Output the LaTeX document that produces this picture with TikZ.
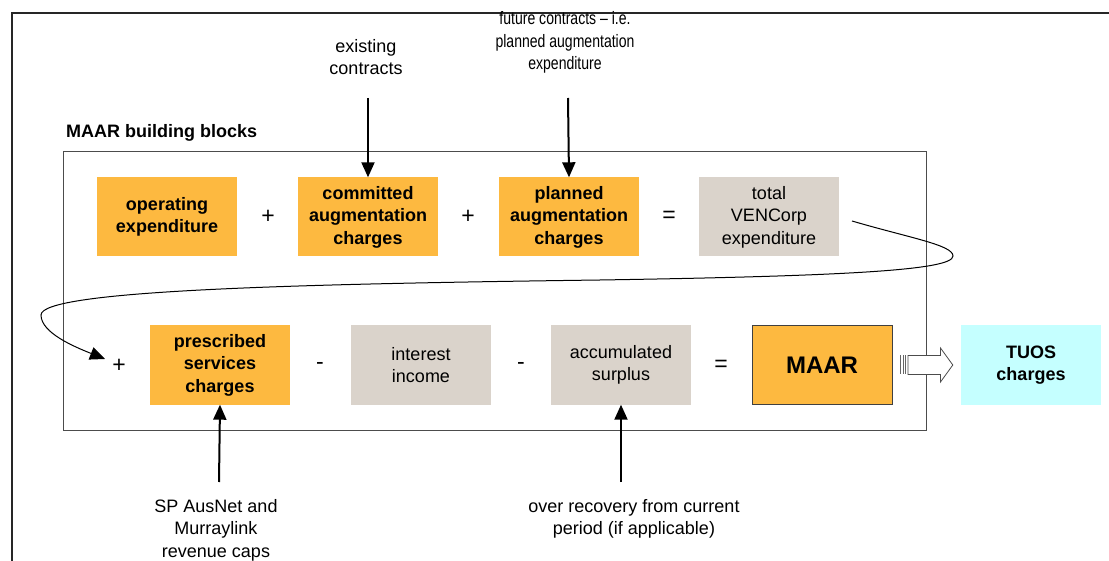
\documentclass[tikz,border=0pt]{standalone}
\usepackage{fontspec}
\setmainfont{Liberation Sans}
\usetikzlibrary{arrows.meta,calc}
\definecolor{blockorange}{RGB}{253,185,64}
\definecolor{blockgrey}{RGB}{218,211,203}
\definecolor{blockcyan}{RGB}{197,255,255}
\tikzset{
  base/.style={minimum width=140pt, minimum height=79pt, inner sep=0pt, align=center,
               font=\fontsize{18}{22.5}\selectfont},
  costbox/.style={base, fill=blockorange, font=\bfseries\fontsize{18}{22.5}\selectfont},
  greybox/.style={base, fill=blockgrey},
  op/.style={font=\fontsize{23}{24}\selectfont, inner sep=0pt},
  note/.style={align=center, font=\fontsize{18}{22.5}\selectfont, inner sep=0pt},
  feed/.style={line width=2pt, -{Triangle[length=15pt,width=13pt]}},
}
\begin{document}
\begin{tikzpicture}[x=1pt,y=-1pt]
\useasboundingbox (0,0) rectangle (1109,561);
% page frame
\draw[line width=2pt, black!85] (12,561) -- (12,13) -- (1109,13);

% building-block frame and title
\draw[line width=1pt, black!70] (63,152) rectangle (926,430);
\node[anchor=west, inner sep=0pt, font=\bfseries\fontsize{18}{22}\selectfont] (title) at (66,133) {MAAR building blocks};

% first row
\node[costbox] (opex) at (167,217) {operating\\expenditure};
\node[op] (p1) at (268,217) {+};
\node[costbox] (committed) at (368,217) {committed\\augmentation\\charges};
\node[op] (p2) at (468,217) {+};
\node[costbox] (planned) at (569,217) {planned\\augmentation\\charges};
\node[op] (e1) at (669,217) {=};
\node[greybox] (total) at (769,217) {total\\VENCorp\\expenditure};

% second row
\node[op] (p3) at (119,366) {+};
\node[costbox] (prescribed) at (220,365) {prescribed\\services\\charges};
\node[op] (m1) at (320,366) {-};
\node[greybox] (interest) at (421,365) {interest\\income};
\node[op] (m2) at (521,366) {-};
\node[greybox] (surplus) at (621,365) {accumulated\\surplus};
\node[op] (e2) at (721,366) {=};
\node[costbox, draw=black!75, line width=1pt, font=\bfseries\fontsize{24}{26}\selectfont] (maar) at (822,365) {MAAR};
\node[base, fill=blockcyan, font=\bfseries\fontsize{18}{22.5}\selectfont] (tuos) at (1031,365) {TUOS\\charges};

% external inputs
\node[note] (existing) at (366,57) {existing\\contracts};
\node[note] (future) at (565,43) {\scalebox{0.78}[1]{\begin{tabular}{@{}c@{}}future contracts – i.e.\\planned augmentation\\expenditure\end{tabular}}};
\node[note] (caps) at (216,530) {SP AusNet and\\Murraylink\\revenue caps};
\node[note] (recovery) at (634,519) {over recovery from current\\period (if applicable)};

\coordinate (existingfoot) at (368,98);
\coordinate (futurefoot) at (568,98);
\coordinate (capstop) at (219,482);
\coordinate (recoverytop) at (621,482);
\draw[feed] (existingfoot) -- (committed.north);
\draw[feed] (futurefoot) -- (planned.north);
\draw[feed] (capstop) -- (prescribed.south);
\draw[feed] (recoverytop) -- (surplus.south);

% carry-over from the first row to the second
\coordinate (loopstart) at (852,221);
\coordinate (loopend) at (105,359);
\draw[line width=1pt, -{Triangle[length=15pt,width=13pt]}]
  (loopstart) .. controls (910,238) and (953,245) .. (953,256)
  .. controls (953,270) and (850,276) .. (600,280)
  .. controls (300,284) and (41,290) .. (41,315)
  .. controls (41,333) and (75,347) .. (loopend);

% hollow arrow from MAAR to TUOS charges
\coordinate (ha) at ($(maar.east)+(8,0)$);
\foreach \dx in {0,2.5,5}
  \draw[black!60, line width=0.6pt] ($(ha)+(\dx,-9.5)$) -- ($(ha)+(\dx,9.5)$);
\draw[black!70, line width=0.8pt, fill=white]
  ($(ha)+(7.5,-9.5)$) -- ($(ha)+(40,-9.5)$) -- ($(ha)+(40,-17)$)
  -- ($(tuos.west)+(-8,0)$) -- ($(ha)+(40,17)$) -- ($(ha)+(40,9.5)$)
  -- ($(ha)+(7.5,9.5)$) -- cycle;
\end{tikzpicture}
\end{document}
